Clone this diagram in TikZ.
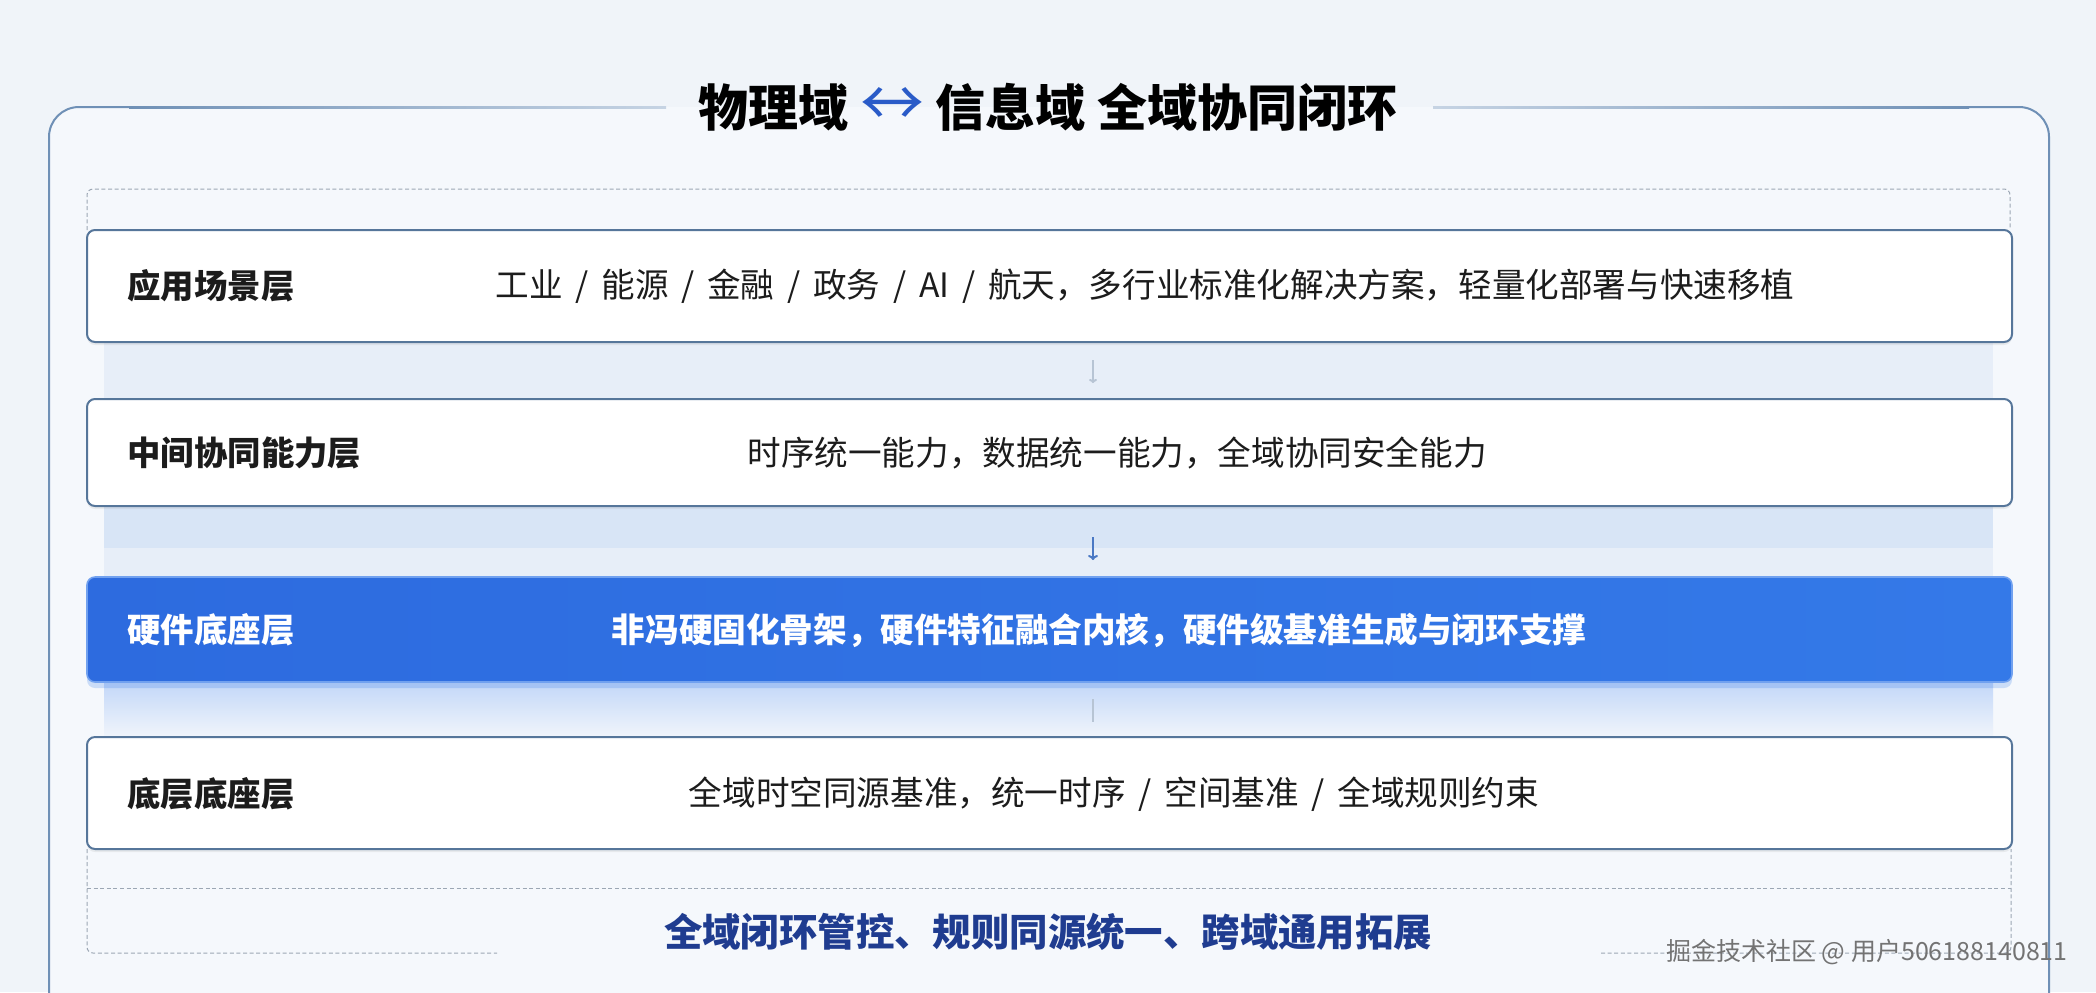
\documentclass[tikz,border=0pt]{standalone}
\usepackage{fontspec}
\setmainfont{Noto Sans CJK SC}
\usetikzlibrary{arrows.meta,shadows,calc}
\definecolor{pagebg}{HTML}{F0F4F9}
\definecolor{innerbg}{HTML}{F5F8FC}
\definecolor{framecol}{HTML}{6F90B6}
\definecolor{boxedge}{HTML}{56769A}
\definecolor{bandA}{HTML}{E7EEF8}
\definecolor{bandB}{HTML}{D8E5F6}
\definecolor{hwL}{HTML}{2D6BDF}
\definecolor{hwR}{HTML}{3479E8}
\definecolor{navy}{HTML}{1F3C90}
\definecolor{dashcol}{HTML}{9CA7B4}
\definecolor{txt}{HTML}{1C1C1C}
\definecolor{arrowblue}{HTML}{4A78C4}
\definecolor{titlearrow}{HTML}{2A5BC8}
\definecolor{faint}{HTML}{B7C4D4}
\newcommand\labfont{\fontsize{16.7}{20}\selectfont\bfseries}
\newcommand\contfont{\fontsize{16.8}{20}\selectfont}
\newcommand\slsep{\hspace{0.38em}/\hspace{0.38em}}
\begin{document}
\begin{tikzpicture}[x=0.5pt,y=-0.5pt,
  layerbox/.style={draw=boxedge, line width=1pt, fill=white, rounded corners=4pt,
    minimum width=962.5pt, inner sep=0pt,
    drop shadow={opacity=0.12, shadow xshift=0pt, shadow yshift=-1.5pt}},
  hwbox/.style={draw=hwR!70!white, line width=0.8pt, left color=hwL, right color=hwR,
    rounded corners=4pt, minimum width=962.5pt, inner sep=0pt,
    drop shadow={opacity=0.22, shadow xshift=0pt, shadow yshift=-3pt, fill=hwR}},
  lab/.style={anchor=west, font=\labfont, text=txt, inner sep=0pt},
  cont/.style={font=\contfont, text=txt, inner sep=0pt},
  dashline/.style={draw=dashcol, line width=0.5pt, dash pattern=on 2pt off 1.3pt},
  faintarrow/.style={draw=faint, line width=1pt, -{To[length=2pt,width=4pt]}},
  bluearrow/.style={draw=arrowblue, line width=1pt, -{To[length=2.5pt,width=5pt]}},
]
\clip (0,0) rectangle (2096,992);
\fill[pagebg] (0,0) rectangle (2096,992);
% outer frame
\fill[innerbg, rounded corners=15pt] (49,107) rectangle (2049,1030);
\draw[framecol, line width=1pt, rounded corners=15pt] (130,107) -- (49,107) -- (49,1030);
\draw[framecol, line width=1pt, rounded corners=15pt] (1968,107) -- (2049,107) -- (2049,1030);
\shade[left color=framecol, right color=framecol!35!innerbg] (129,106) rectangle (666,108.2);
\shade[left color=framecol!35!innerbg, right color=framecol] (1433,106) rectangle (1969,108.2);
% title
\node[font=\fontsize{25}{30}\selectfont\bfseries, text=black, inner sep=0pt] (title) at (1048,107)
  {物理域 {\mdseries\fontsize{32}{32}\selectfont\color{titlearrow}↔} 信息域 全域协同闭环};
% background bands
\fill[bandA] (104,342) rectangle (1993,737);
\fill[bandB] (104,506) rectangle (1993,548);
\shade[top color=hwR!30!white, bottom color=bandA!60!white] (104,682) rectangle (1993,737);
% dashed outline
\draw[dashline, rounded corners=3pt] (87,230) -- (87,189) -- (2010,189) -- (2010,230);
\draw[dashline, rounded corners=3pt] (87,849) -- (87,953) -- (497,953);
\draw[dashline] (87,888) -- (2011,888);
\draw[dashline, rounded corners=3pt] (1601,953) -- (2011,953) -- (2011,849);
% layers
\node[layerbox, minimum height=56pt] (L1) at (1049.5,286) {};
\node[layerbox, minimum height=53.5pt] (L2) at (1049.5,452.5) {};
\node[hwbox, minimum height=52.5pt] (L3) at (1049.5,629.5) {};
\node[layerbox, minimum height=56pt] (L4) at (1049.5,793) {};
% labels
\node[lab] (L1l) at (127,286) {应用场景层};
\node[lab] (L2l) at (127,453) {中间协同能力层};
\node[lab, text=white] (L3l) at (127,630) {硬件底座层};
\node[lab] (L4l) at (127,794) {底层底座层};
% contents
\node[cont] (L1c) at (1145,286) {工业\slsep 能源\slsep 金融\slsep 政务\slsep AI\slsep 航天，多行业标准化解决方案，轻量化部署与快速移植};
\node[cont] (L2c) at (1117,453) {时序统一能力，数据统一能力，全域协同安全能力};
\node[cont, text=white, font=\contfont\bfseries] (L3c) at (1099,630) {非冯硬固化骨架，硬件特征融合内核，硬件级基准生成与闭环支撑};
\node[cont] (L4c) at (1114,794) {全域时空同源基准，统一时序\slsep 空间基准\slsep 全域规则约束};
% small arrows
\coordinate (a1s) at (1093,360); \coordinate (a1e) at (1093,383);
\coordinate (a2s) at (1093,537); \coordinate (a2e) at (1093,560);
\coordinate (a3s) at (1093,699); \coordinate (a3e) at (1093,722);
\draw[faintarrow] (a1s) -- (a1e);
\draw[bluearrow] (a2s) -- (a2e);
\draw[faint, line width=1.2pt] (a3s) -- (a3e);
% bottom text
\node[font=\fontsize{19.2}{23}\selectfont\bfseries, text=navy, inner sep=0pt] (bottom) at (1048,932)
  {全域闭环管控、规则同源统一、跨域通用拓展};
% watermark
\node[font=\fontsize{12.5}{15}\selectfont, text=black!55, inner sep=0pt] (wm) at (1867,952)
  {掘金技术社区 @ 用户506188140811};
\end{tikzpicture}
\end{document}
